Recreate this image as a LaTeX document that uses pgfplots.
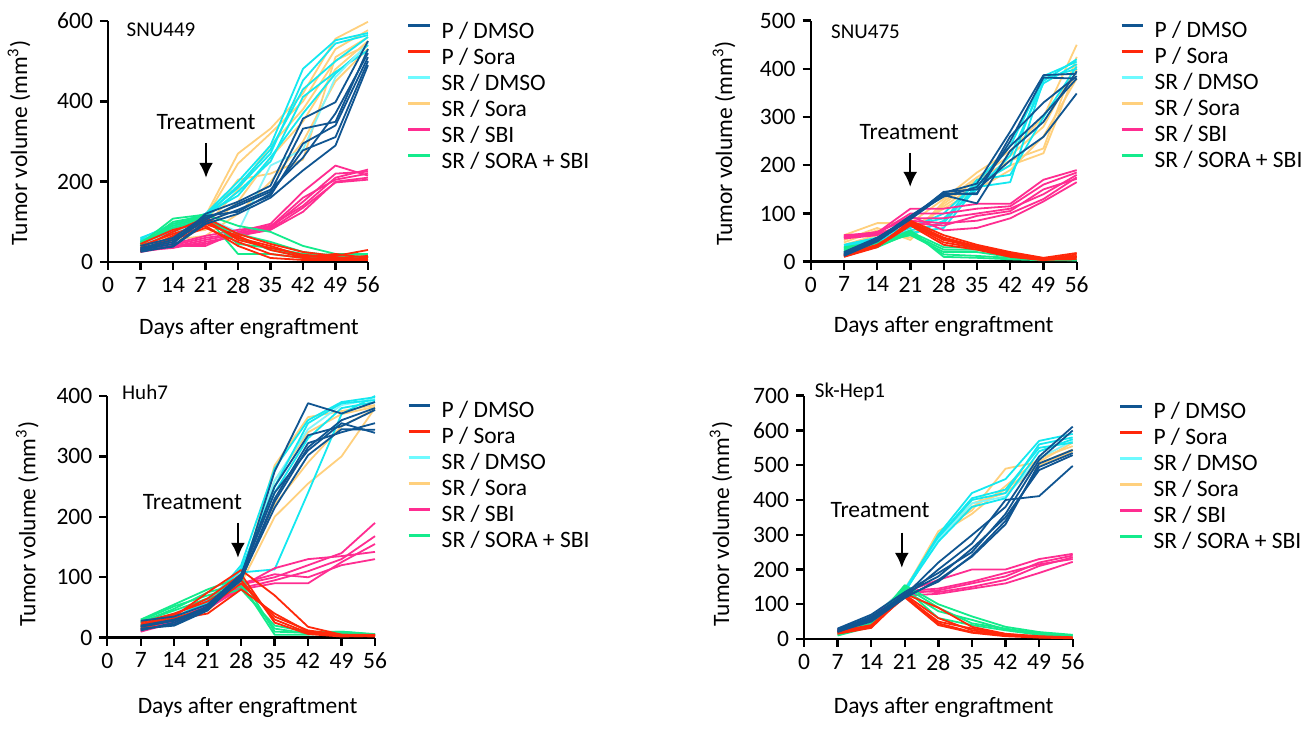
\documentclass[border=0pt]{standalone}
\usepackage{fontspec}
\setmainfont{Carlito}
\usepackage{pgfplots}
\pgfplotsset{compat=1.18}
\usetikzlibrary{arrows.meta}
\definecolor{cPD}{RGB}{16,85,145}
\definecolor{cPS}{RGB}{255,40,10}
\definecolor{cSD}{RGB}{20,232,240}
\definecolor{cSDl}{RGB}{130,245,250}
\definecolor{cSDleg}{RGB}{110,250,255}
\definecolor{cSS}{RGB}{255,208,125}
\definecolor{cSB}{RGB}{255,45,145}
\definecolor{cSC}{RGB}{20,235,140}
\newcommand\lbl{\fontsize{11.75}{14}\selectfont}
\newcommand\ttl{\fontsize{10.5}{12}\selectfont}
\newcommand\m[9]{\addplot[forget plot,#1] coordinates {(7,#2)(14,#3)(21,#4)(28,#5)(35,#6)(42,#7)(49,#8)(56,#9)};}
\pgfplotsset{
 gPD/.style={cPD,line width=0.9pt,line join=round},
 gPS/.style={cPS,line width=0.9pt,line join=round},
 gSD/.style={cSD,line width=0.9pt,line join=round},
 gSDl/.style={cSDl,line width=0.9pt,line join=round},
 gSS/.style={cSS,line width=0.9pt,line join=round},
 gSB/.style={cSB,line width=0.9pt,line join=round},
 gSC/.style={cSC,line width=0.9pt,line join=round},
 panel/.style={
  scale only axis, anchor=south west,
  axis x line*=bottom, axis y line*=left,
  xmin=0, xmax=56, ymin=0,
  xtick={0,7,...,56},
  tick align=outside, major tick length=4pt,
  axis line style={line width=1.2pt,black},
  every tick/.style={line width=1.2pt,black},
  tick label style={font=\lbl},
  /pgf/number format/assume math mode=true,
  clip=false, enlargelimits=false,
  label style={font=\lbl},
  xlabel={Days after engraftment},
  ylabel={Tumor volume (mm\textsuperscript{3})},
  legend cell align=left,
  legend image code/.code={\draw[##1,line width=1.5pt] (0pt,3.6pt) -- (10.8pt,3.6pt);},
  legend style={draw=none,fill=none,anchor=north west,font=\lbl,inner sep=0pt,outer sep=0pt,row sep=0pt,
    nodes={inner sep=0pt,text height=9pt,text depth=4pt},
    /tikz/every odd column/.append style={column sep=5pt}},
 },
 legs/.code={
  \addlegendimage{cPD}\addlegendentry{P / DMSO}
  \addlegendimage{cPS}\addlegendentry{P / Sora}
  \addlegendimage{cSDleg}\addlegendentry{SR / DMSO}
  \addlegendimage{cSS}\addlegendentry{SR / Sora}
  \addlegendimage{cSB}\addlegendentry{SR / SBI}
  \addlegendimage{cSC}\addlegendentry{SR / SORA + SBI}
 },
}
\newcommand\treat[5]{% text x,y ; arrow x, y1, y2
 \node[font=\lbl] at (axis description cs:#1,#2) {Treatment};
 \draw[line width=1.3pt,-{Latex[length=7.5pt,width=7pt]}] (axis description cs:#3,#4) -- (axis description cs:#3,#5);}
\begin{document}
\begin{tikzpicture}
\useasboundingbox (0,0) rectangle (652pt,365.5pt);
% ---------------- SNU449
\begin{axis}[panel, at={(54pt,234.5pt)}, width=130pt, height=120.5pt, ymax=600, ytick={0,200,400,600},
  xlabel style={at={(axis description cs:0.542,-0.274)},anchor=center},
  ylabel style={at={(axis description cs:-0.342,0.494)},anchor=center},
  legend style={at={(axis description cs:1.15,1.004)}}]
\pgfplotsset{legs}
\m{gSS}{50}{75}{115}{270}{332}{420}{556}{598}
\m{gSS}{45}{65}{110}{245}{320}{400}{530}{577}
\m{gSS}{40}{60}{100}{205}{220}{255}{510}{560}
\m{gSS}{55}{80}{90}{180}{290}{380}{502}{540}
\m{gSS}{42}{55}{65}{120}{200}{300}{450}{531}
\m{gSS}{48}{70}{80}{150}{260}{350}{480}{550}
\m{gSD}{60}{90}{120}{200}{290}{481}{552}{570}
\m{gSD}{55}{80}{118}{185}{270}{452}{544}{565}
\m{gSD}{50}{75}{112}{175}{250}{411}{473}{527}
\m{gSD}{58}{95}{120}{165}{260}{370}{469}{540}
\m{gSDl}{45}{70}{110}{75}{240}{280}{460}{545}
\m{gSD}{52}{85}{115}{190}{280}{430}{500}{560}
\m{gSB}{30}{40}{40}{75}{95}{175}{240}{215}
\m{gSB}{25}{38}{55}{70}{85}{150}{220}{225}
\m{gSB}{35}{45}{65}{80}{90}{140}{210}{230}
\m{gSB}{28}{35}{50}{65}{80}{125}{200}{210}
\m{gSB}{32}{42}{60}{72}{88}{160}{205}{220}
\m{gSB}{30}{40}{45}{68}{82}{135}{198}{205}
\m{gSC}{45}{108}{118}{90}{75}{40}{20}{20}
\m{gSC}{40}{100}{115}{20}{20}{10}{12}{15}
\m{gSC}{50}{90}{110}{60}{30}{15}{15}{10}
\m{gSC}{42}{95}{112}{45}{35}{20}{18}{12}
\m{gSC}{48}{85}{105}{70}{50}{25}{15}{10}
\m{gPS}{35}{75}{110}{70}{45}{25}{15}{30}
\m{gPS}{25}{60}{90}{40}{10}{5}{5}{5}
\m{gPS}{45}{80}{100}{60}{40}{15}{10}{15}
\m{gPS}{30}{55}{85}{50}{20}{10}{8}{8}
\m{gPS}{40}{70}{95}{65}{30}{12}{20}{10}
\m{gPS}{28}{65}{105}{55}{35}{18}{12}{5}
\m{gPD}{30}{45}{120}{150}{190}{357}{398}{550}
\m{gPD}{35}{55}{110}{140}{175}{332}{349}{530}
\m{gPD}{25}{40}{100}{130}{165}{295}{340}{510}
\m{gPD}{40}{60}{115}{125}{170}{278}{311}{500}
\m{gPD}{28}{38}{95}{120}{160}{228}{290}{490}
\m{gPD}{32}{50}{105}{145}{180}{260}{370}{520}
\node[font=\ttl] at (axis description cs:0.204,0.963) {SNU449};
\treat{0.377}{0.581}{0.377}{0.494}{0.349}
\end{axis}
% ---------------- SNU475
\begin{axis}[panel, at={(405.35pt,234.65pt)}, width=133pt, height=120.5pt, ymax=500, ytick={0,100,...,500},
  xlabel style={at={(axis description cs:0.50,-0.27)},anchor=center},
  ylabel style={at={(axis description cs:-0.326,0.49)},anchor=center},
  legend style={at={(axis description cs:1.163,1.005)}}]
\pgfplotsset{legs}
\m{gSS}{55}{80}{80}{130}{185}{230}{300}{450}
\m{gSS}{45}{70}{45}{120}{170}{210}{235}{425}
\m{gSS}{40}{65}{60}{115}{160}{200}{225}{400}
\m{gSS}{50}{60}{70}{110}{150}{190}{260}{380}
\m{gSS}{35}{55}{50}{125}{175}{220}{280}{410}
\m{gSD}{30}{45}{60}{70}{155}{165}{375}{420}
\m{gSD}{25}{42}{65}{80}{160}{200}{385}{415}
\m{gSD}{35}{50}{75}{90}{150}{220}{370}{410}
\m{gSD}{28}{45}{70}{100}{165}{240}{380}{400}
\m{gSD}{32}{48}{55}{85}{170}{180}{300}{405}
\m{gSB}{55}{60}{110}{110}{120}{120}{170}{190}
\m{gSB}{50}{58}{100}{100}{110}{115}{160}{185}
\m{gSB}{52}{62}{90}{90}{100}{110}{140}{180}
\m{gSB}{48}{55}{85}{80}{85}{100}{130}{175}
\m{gSB}{53}{60}{95}{65}{70}{90}{125}{165}
\m{gSB}{50}{57}{80}{75}{95}{105}{150}{172}
\m{gSC}{25}{35}{65}{10}{8}{5}{3}{3}
\m{gSC}{20}{30}{60}{15}{12}{8}{4}{3}
\m{gSC}{30}{40}{55}{20}{20}{10}{5}{4}
\m{gSC}{22}{32}{58}{25}{25}{12}{5}{3}
\m{gSC}{28}{38}{62}{30}{30}{15}{6}{5}
\m{gPS}{10}{30}{85}{55}{35}{20}{8}{18}
\m{gPS}{12}{32}{80}{45}{30}{15}{5}{10}
\m{gPS}{14}{34}{78}{40}{28}{12}{4}{5}
\m{gPS}{11}{31}{75}{35}{25}{10}{3}{12}
\m{gPS}{13}{33}{82}{50}{32}{18}{6}{8}
\m{gPS}{15}{35}{76}{48}{30}{14}{5}{15}
\m{gPD}{15}{45}{92}{143}{162}{270}{387}{390}
\m{gPD}{18}{48}{95}{140}{142}{250}{382}{380}
\m{gPD}{12}{42}{88}{138}{121}{230}{290}{395}
\m{gPD}{20}{50}{90}{145}{150}{210}{259}{349}
\m{gPD}{16}{46}{94}{135}{155}{240}{304}{380}
\m{gPD}{14}{44}{90}{142}{140}{260}{330}{385}
\node[font=\ttl] at (axis description cs:0.206,0.954) {SNU475};
\treat{0.37}{0.538}{0.374}{0.451}{0.31}
\end{axis}
% ---------------- Huh7
\begin{axis}[panel, at={(53.65pt,46.65pt)}, width=133.85pt, height=120.85pt, ymax=400, ytick={0,100,...,400},
  xlabel style={at={(axis description cs:0.524,-0.29)},anchor=center},
  ylabel style={at={(axis description cs:-0.299,0.47)},anchor=center},
  legend style={at={(axis description cs:1.12,0.985)}}]
\pgfplotsset{legs}
\m{gSS}{18}{28}{48}{95}{285}{365}{375}{385}
\m{gSS}{15}{25}{45}{90}{200}{255}{300}{380}
\m{gSS}{20}{30}{50}{100}{220}{290}{350}{378}
\m{gSS}{16}{27}{47}{93}{260}{340}{370}{382}
\m{gSD}{20}{30}{60}{108}{113}{240}{370}{400}
\m{gSD}{15}{35}{55}{120}{280}{360}{390}{398}
\m{gSDl}{25}{40}{65}{110}{260}{345}{385}{395}
\m{gSD}{18}{28}{58}{115}{240}{330}{380}{390}
\m{gSD}{22}{33}{62}{112}{250}{355}{388}{393}
\m{gSB}{10}{25}{50}{85}{115}{130}{135}{142}
\m{gSB}{12}{28}{55}{88}{100}{120}{140}{190}
\m{gSB}{14}{22}{48}{82}{95}{110}{130}{168}
\m{gSB}{11}{26}{52}{80}{90}{90}{125}{155}
\m{gSB}{13}{24}{46}{90}{105}{100}{120}{130}
\m{gSC}{30}{55}{80}{100}{10}{8}{10}{5}
\m{gSC}{25}{48}{75}{90}{5}{5}{8}{4}
\m{gSC}{28}{52}{70}{85}{15}{7}{9}{5}
\m{gSC}{26}{45}{65}{80}{20}{10}{10}{6}
\m{gPS}{20}{35}{75}{112}{70}{18}{5}{3}
\m{gPS}{15}{30}{40}{80}{40}{10}{3}{2}
\m{gPS}{25}{40}{60}{95}{30}{8}{4}{4}
\m{gPS}{18}{32}{50}{90}{35}{12}{5}{5}
\m{gPS}{22}{38}{65}{105}{25}{6}{2}{3}
\m{gPD}{15}{20}{45}{100}{275}{388}{371}{390}
\m{gPD}{28}{35}{55}{105}{250}{335}{350}{377}
\m{gPD}{12}{25}{50}{95}{230}{322}{340}{355}
\m{gPD}{20}{30}{48}{98}{215}{302}{345}{344}
\m{gPD}{18}{28}{52}{102}{240}{310}{355}{339}
\m{gPD}{14}{22}{47}{97}{225}{315}{360}{380}
\node[font=\ttl] at (axis description cs:0.141,1.017) {Huh7};
\treat{0.318}{0.561}{0.488}{0.475}{0.33}
\end{axis}
% ---------------- Sk-Hep1
\begin{axis}[panel, at={(402pt,46pt)}, width=134.35pt, height=121.65pt, ymax=700, ytick={0,100,...,700},
  xlabel style={at={(axis description cs:0.52,-0.28)},anchor=center},
  ylabel style={at={(axis description cs:-0.309,0.473)},anchor=center},
  legend style={at={(axis description cs:1.172,0.98)}}]
\pgfplotsset{legs}
\m{gSS}{24}{60}{140}{310}{370}{490}{510}{565}
\m{gSS}{22}{56}{135}{300}{360}{440}{520}{555}
\m{gSS}{26}{62}{145}{295}{380}{430}{505}{545}
\m{gSS}{20}{55}{138}{290}{390}{420}{500}{540}
\m{gSD}{25}{60}{140}{300}{420}{460}{570}{590}
\m{gSD}{20}{55}{135}{290}{400}{420}{560}{580}
\m{gSDl}{28}{62}{145}{285}{390}{410}{520}{570}
\m{gSD}{22}{58}{138}{280}{380}{405}{540}{575}
\m{gSD}{26}{60}{142}{295}{405}{430}{550}{565}
\m{gSB}{25}{60}{135}{170}{200}{200}{230}{245}
\m{gSB}{22}{55}{130}{140}{160}{180}{220}{240}
\m{gSB}{28}{62}{140}{135}{150}{170}{210}{235}
\m{gSB}{20}{58}{125}{130}{145}{160}{190}{222}
\m{gSB}{26}{60}{138}{145}{165}{190}{215}{230}
\m{gSC}{15}{40}{155}{100}{65}{35}{20}{12}
\m{gSC}{10}{35}{150}{90}{45}{30}{15}{10}
\m{gSC}{20}{45}{145}{60}{40}{25}{12}{8}
\m{gSC}{12}{38}{140}{80}{55}{28}{18}{10}
\m{gPS}{18}{35}{130}{90}{35}{15}{8}{5}
\m{gPS}{15}{32}{125}{45}{20}{10}{5}{3}
\m{gPS}{20}{38}{120}{40}{18}{8}{4}{2}
\m{gPS}{16}{34}{128}{60}{25}{12}{6}{4}
\m{gPS}{22}{40}{122}{50}{30}{14}{7}{3}
\m{gPD}{25}{65}{125}{220}{299}{380}{525}{611}
\m{gPD}{20}{55}{120}{200}{275}{400}{411}{498}
\m{gPD}{28}{60}{130}{180}{260}{350}{486}{529}
\m{gPD}{22}{50}{118}{170}{237}{330}{505}{544}
\m{gPD}{30}{70}{135}{190}{250}{360}{515}{600}
\m{gPD}{24}{58}{122}{165}{240}{340}{495}{535}
\node[font=\ttl] at (axis description cs:0.171,1.016) {Sk-Hep1};
\treat{0.283}{0.53}{0.364}{0.437}{0.292}
\end{axis}
\end{tikzpicture}
\end{document}
